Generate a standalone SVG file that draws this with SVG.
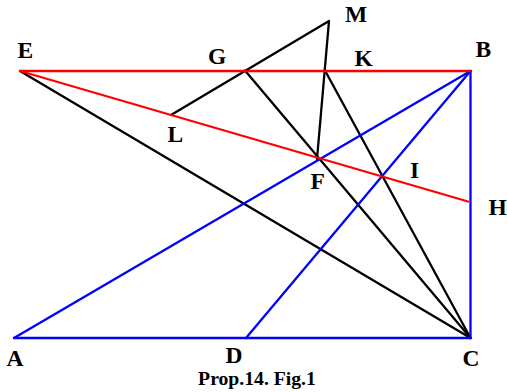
<svg xmlns="http://www.w3.org/2000/svg" width="507" height="392" viewBox="0 0 507 392">
<style>
.r{stroke:#ff0000;stroke-width:2.3;fill:none;stroke-linecap:round}
.b{stroke:#0000ff;stroke-width:2.3;fill:none;stroke-linecap:round}
.k{stroke:#000000;stroke-width:2.3;fill:none;stroke-linecap:round;stroke-linejoin:round}
text{font-family:"Liberation Serif","Times New Roman",serif;font-weight:bold;font-size:23.5px;fill:#000}
.cap{font-size:19.7px}
</style>
<rect width="507" height="392" fill="#fff"/>
<g id="connectors">
<line class="k" x1="20" y1="71" x2="470.5" y2="338"/>
<line class="k" x1="245" y1="70.5" x2="470.5" y2="338"/>
<line class="k" x1="325" y1="70.5" x2="470.5" y2="338"/>
<polyline class="k" points="171,115 329,21 317,159"/>
<line class="b" x1="14" y1="338" x2="470.5" y2="338"/>
<line class="b" x1="14" y1="338" x2="470.5" y2="71"/>
<line class="b" x1="246" y1="338" x2="470.5" y2="71"/>
<line class="b" x1="470.5" y1="71" x2="470.5" y2="338"/>
<line class="r" x1="20" y1="71" x2="470" y2="71"/>
<line class="r" x1="20" y1="71" x2="468" y2="201.5"/>
</g>
<g id="E"><text x="17.5" y="58">E</text></g>
<g id="G"><text x="208" y="64">G</text></g>
<g id="L"><text x="167.5" y="142">L</text></g>
<g id="M"><text x="345" y="22">M</text></g>
<g id="K"><text x="354.5" y="66">K</text></g>
<g id="B"><text x="475.5" y="57">B</text></g>
<g id="F"><text x="310.5" y="189">F</text></g>
<g id="I"><text x="410" y="178">I</text></g>
<g id="H"><text x="488.5" y="215">H</text></g>
<g id="A"><text x="6.5" y="366">A</text></g>
<g id="D"><text x="225.5" y="363">D</text></g>
<g id="C"><text x="462.5" y="366">C</text></g>
<g id="caption"><text class="cap" x="257" y="385" text-anchor="middle">Prop.14. Fig.1</text></g>
</svg>
